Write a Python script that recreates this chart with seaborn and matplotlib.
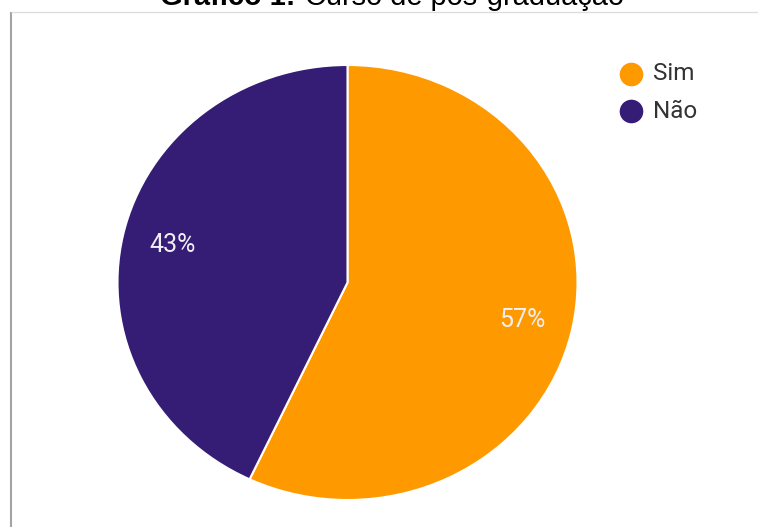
import matplotlib
matplotlib.use("Agg")
import matplotlib.pyplot as plt
import seaborn as sns

# Survey answers: did the respondent take a postgraduate course?
categories = ["Sim", "Não"]
shares = [57, 43]
title_bold = "Gráfico 1:"
title_rest = "Curso de pós-graduação"

sns.set_theme(style="white")
plt.rcParams["font.family"] = ["Roboto", "DejaVu Sans"]
palette = sns.color_palette(["#FF9900", "#351C75"])

W, H = 758, 527
fig = plt.figure(figsize=(W / 100, H / 100), dpi=100)

def px_box(x0, y0, x1, y1):
    return [x0 / W, 1 - y1 / H, (x1 - x0) / W, (y1 - y0) / H]

# Pie area (slightly stretched horizontally)
ax = fig.add_axes(px_box(117.5, 65, 577.5, 500))
wedges, texts, autotexts = ax.pie(
    shares,
    colors=palette,
    startangle=90,
    counterclock=False,
    radius=1,
    autopct=lambda p: f"{p:.0f}%",
    pctdistance=0.78,
    wedgeprops=dict(edgecolor="white", linewidth=1.5),
    textprops=dict(color="#f1eef6", fontsize=18, family=["Roboto", "DejaVu Sans"]),
)
ax.set_xlim(-1, 1)
ax.set_ylim(-1, 1)
ax.set_aspect("auto")
ax.axis("off")

# Overlay in pixel coordinates for frame, title and legend
ov = fig.add_axes([0, 0, 1, 1], facecolor="none")
ov.set_xlim(0, W)
ov.set_ylim(H, 0)
ov.axis("off")

ov.plot([10.5, 10.5], [12, H], color="#a3a3a3", lw=1.5, solid_capstyle="butt")
ov.plot([10.5, W], [12, 12], color="#dcdcdc", lw=0.9, solid_capstyle="butt")

ov.text(160, 5, title_bold, fontsize=20.9, fontweight="bold",
        family=["Liberation Sans", "DejaVu Sans"], color="#000000",
        ha="left", va="baseline", clip_on=False)
ov.text(305, 5, title_rest, fontsize=20.9,
        family=["Liberation Sans", "DejaVu Sans"], color="#000000",
        ha="left", va="baseline", clip_on=False)

legend_y = [74, 111]
for lab, col, y in zip(categories, palette, legend_y):
    ov.scatter([631], [y], s=(17) ** 2, color=col, marker="o", linewidths=0)
    ov.text(653, y, lab, fontsize=17.5, color="#333333", ha="left", va="center")

fig.savefig("out.png", dpi=100)
